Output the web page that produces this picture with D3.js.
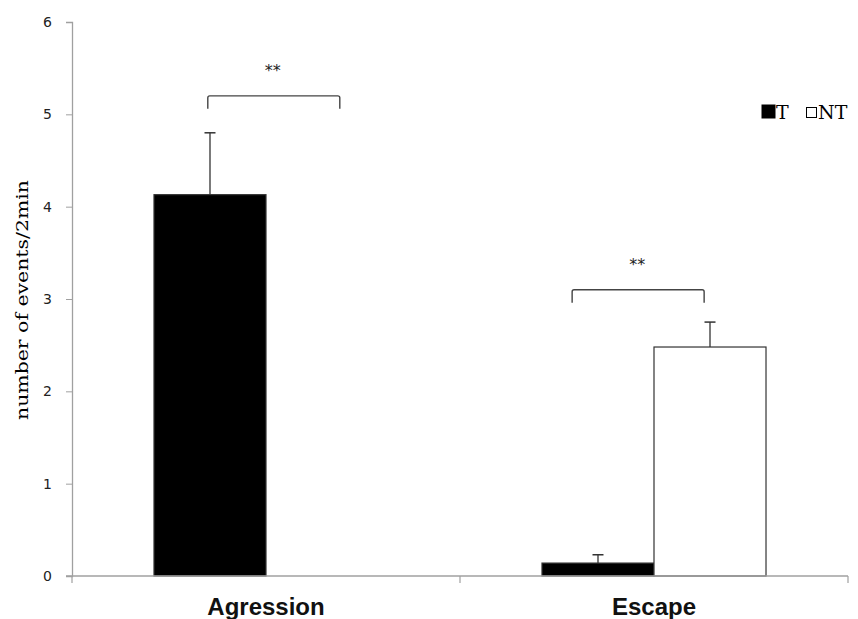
<!DOCTYPE html>
<html>
<head>
<meta charset="utf-8">
<script src="https://cdn.jsdelivr.net/npm/d3@7"></script>
<style>
  body { margin: 0; background: #fff; }
</style>
</head>
<body>
<script>
// chart values
var categories = ["Agression", "Escape"];
var groups = ["T", "NT"];
var meanT = [4.13, 0.14];
var meanNT = [0, 2.48];
var errT = [0.67, 0.09];
var errNT = [0, 0.27];
var yTicks = [0, 1, 2, 3, 4, 5, 6];
var sigLabels = ["**", "**"];
var sigLevel = [5.2, 3.1];
var sigFrom = [0.35, 0.289];   // bracket start as a share of the category band

var width = 858, height = 619;
var margin = {top: 22, right: 10, bottom: 43, left: 72};

var svg = d3.select("body").append("svg")
    .attr("width", width)
    .attr("height", height);

var x = d3.scaleBand()
    .domain(categories)
    .range([margin.left, 848])
    .paddingInner(0)
    .paddingOuter(0);

var xInner = d3.scaleBand()
    .domain(groups)
    .range([0, x.bandwidth()])
    .paddingInner(0)
    .paddingOuter(0.732);

var y = d3.scaleLinear()
    .domain([0, 6])
    .range([576, margin.top]);

var axisColor = "#a0a0a0";

// y axis
var yAxis = svg.append("g")
    .attr("transform", "translate(" + margin.left + ",0)")
    .call(d3.axisLeft(y).tickValues(yTicks).tickSize(6).tickPadding(14).tickFormat(d3.format("d")));
yAxis.select(".domain").attr("stroke", axisColor).attr("stroke-width", 1.3);
yAxis.selectAll(".tick line").attr("stroke", axisColor);
yAxis.selectAll(".tick text")
    .attr("fill", "#222")
    .style("font-family", "'DejaVu Sans', sans-serif")
    .style("font-size", "14px");

var data = categories.map(function(c, i) {
  return [
    {cat: c, g: "T", v: meanT[i], e: errT[i]},
    {cat: c, g: "NT", v: meanNT[i], e: errNT[i]}
  ];
});

var grp = svg.selectAll(".grp").data(data).enter().append("g")
    .attr("transform", function(d, i) { return "translate(" + x(categories[i]) + ",0)"; });

grp.selectAll("rect").data(function(d) { return d.filter(function(b) { return b.v > 0; }); })
  .enter().append("rect")
    .attr("x", function(d) { return xInner(d.g); })
    .attr("width", xInner.bandwidth())
    .attr("y", function(d) { return y(d.v); })
    .attr("height", function(d) { return y(0) - y(d.v); })
    .attr("fill", function(d) { return d.g === "T" ? "#000" : "#fff"; })
    .attr("stroke", "#333")
    .attr("stroke-width", 1.2);

// error bars (upper only)
var eb = grp.selectAll(".err").data(function(d) { return d.filter(function(b) { return b.e > 0; }); })
  .enter().append("g");
eb.append("line")
    .attr("x1", function(d) { return xInner(d.g) + xInner.bandwidth() / 2; })
    .attr("x2", function(d) { return xInner(d.g) + xInner.bandwidth() / 2; })
    .attr("y1", function(d) { return y(d.v); })
    .attr("y2", function(d) { return y(d.v + d.e); })
    .attr("stroke", "#333").attr("stroke-width", 1.3);
eb.append("line")
    .attr("x1", function(d) { return xInner(d.g) + xInner.bandwidth() / 2 - 5.5; })
    .attr("x2", function(d) { return xInner(d.g) + xInner.bandwidth() / 2 + 5.5; })
    .attr("y1", function(d) { return y(d.v + d.e); })
    .attr("y2", function(d) { return y(d.v + d.e); })
    .attr("stroke", "#333").attr("stroke-width", 1.5);

// x axis
var xAxisG = svg.append("g");
xAxisG.append("line")
    .attr("x1", margin.left - 6).attr("x2", 848)
    .attr("y1", y(0)).attr("y2", y(0))
    .attr("stroke", axisColor).attr("stroke-width", 1.3);
xAxisG.selectAll(".xt").data(categories.concat(["end"])).enter().append("line")
    .attr("x1", function(d, i) { return margin.left + i * x.bandwidth(); })
    .attr("x2", function(d, i) { return margin.left + i * x.bandwidth(); })
    .attr("y1", y(0)).attr("y2", y(0) + 7)
    .attr("stroke", axisColor).attr("stroke-width", 1.2);
xAxisG.selectAll(".xl").data(categories).enter().append("text")
    .attr("x", function(d) { return x(d) + x.bandwidth() / 2; })
    .attr("y", 615)
    .attr("text-anchor", "middle")
    .style("font-family", "'Liberation Sans', Arial, sans-serif")
    .style("font-weight", "bold")
    .style("font-size", "24px")
    .attr("fill", "#111")
    .text(function(d) { return d; });

// significance brackets
var brkW = 132;
var brk = svg.selectAll(".brk").data(categories).enter().append("g");
brk.append("path")
    .attr("d", function(d, i) {
      var x0 = x(d) + sigFrom[i] * x.bandwidth(), x1 = x0 + brkW;
      var yt = y(sigLevel[i]), yb = y(sigLevel[i] - 0.14);
      return "M" + x0 + "," + yb + "V" + (yt + 2) + "Q" + x0 + "," + yt + " " + (x0 + 2) + "," + yt +
             "H" + (x1 - 2) + "Q" + x1 + "," + yt + " " + x1 + "," + (yt + 2) + "V" + yb;
    })
    .attr("fill", "none").attr("stroke", "#444").attr("stroke-width", 1.4);
brk.append("text")
    .attr("x", function(d, i) { return x(d) + sigFrom[i] * x.bandwidth() + brkW / 2 - 1; })
    .attr("y", function(d, i) { return y(sigLevel[i]) - 20; })
    .attr("text-anchor", "middle")
    .style("font-family", "'DejaVu Sans', sans-serif")
    .style("font-size", "16px")
    .attr("fill", "#222")
    .text(function(d, i) { return sigLabels[i]; });

// legend
var leg = svg.append("g").attr("transform", "translate(762,105)");
leg.append("rect").attr("x", 0).attr("y", 0).attr("width", 13).attr("height", 13)
    .attr("fill", "#000").attr("stroke", "#000");
leg.append("text").attr("x", 14).attr("y", 14).text("T");
leg.append("rect").attr("x", 44.5).attr("y", 2.5).attr("width", 10).attr("height", 10)
    .attr("fill", "#fff").attr("stroke", "#000");
leg.append("text").attr("x", 56).attr("y", 14).text("NT");
leg.selectAll("text")
    .style("font-family", "'DejaVu Serif', 'Liberation Serif', serif")
    .style("font-size", "19px")
    .attr("fill", "#000");

// y label
svg.append("text")
    .attr("transform", "translate(28,300) rotate(-90)")
    .attr("text-anchor", "middle")
    .attr("textLength", 240)
    .attr("lengthAdjust", "spacingAndGlyphs")
    .style("font-family", "'DejaVu Serif', 'Liberation Serif', serif")
    .style("font-size", "17px")
    .attr("fill", "#000")
    .text("number of events/2min");
</script>
</body>
</html>
